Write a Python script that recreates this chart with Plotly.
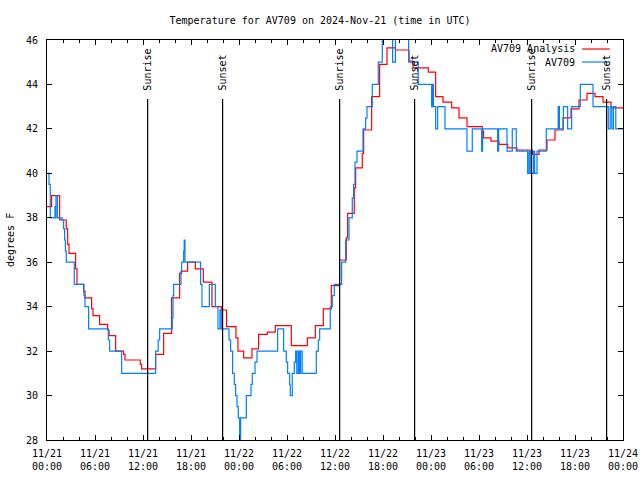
import plotly.graph_objects as go
import pandas as pd

start = pd.Timestamp("2024-11-21 00:00")

# Hours since 2024-11-21 00:00 UTC and temperatures (deg F)
analysis_hours = [0.0, 0.58, 1.58, 2.41, 2.58, 2.75, 3.58, 3.75, 4.58, 4.75, 5.58, 5.75, 6.58, 7.58, 7.75,
                  8.58, 9.58, 9.75, 11.66, 11.83, 13.58, 14.58, 15.58, 16.58, 16.75, 17.58, 18.54, 19.54,
                  20.62, 21.79, 22.45, 23.62, 23.87, 24.58, 25.62, 26.45, 27.54, 28.54, 30.54, 32.54, 33.54,
                  34.54, 35.54, 36.58, 37.41, 37.58, 38.41, 38.58, 39.41, 39.58, 40.58, 41.58, 42.5, 43.58,
                  45.25, 45.75, 47.66, 48.58, 49.5, 50.58, 51.5, 52.5, 54.41, 54.58, 55.5, 56.5, 57.58,
                  58.75, 60.66, 61.5, 62.5, 63.5, 64.5, 65.5, 66.5, 67.5, 68.5, 69.5, 70.5, 72.0]
analysis_temp = [38.5, 39.0, 37.9, 37.5, 36.8, 36.4, 35.7, 35.0, 34.7, 34.4, 33.9, 33.6, 33.2, 32.95, 32.7,
                 32.0, 31.85, 31.6, 31.4, 31.2, 31.85, 32.8, 34.4, 35.5, 35.6, 36.0, 35.7, 35.1,
                 34.0, 33.85, 33.1, 32.6, 32.0, 31.7, 32.1, 32.75, 32.85, 33.15, 32.25, 32.6, 33.15,
                 33.9, 34.95, 36.1, 37.1, 38.2, 39.35, 40.25, 40.9, 41.95, 43.45, 44.9, 45.65, 45.55,
                 45.05, 44.75, 44.55, 43.45, 43.2, 42.95, 42.5, 42.1, 41.9, 41.6, 41.45, 41.3, 41.15,
                 41.05, 40.85, 41.05, 41.5, 41.95, 42.5, 42.9, 43.3, 43.6, 43.45, 43.2, 42.95, 42.95]

obs_hours = [0.0, 0.25, 0.41, 1.0, 1.08, 1.12, 1.3, 1.9, 2.08, 2.2, 2.3, 2.41, 3.41, 4.62, 4.75, 5.2,
             7.66, 7.83, 9.33, 13.58, 13.9, 14.08, 15.66, 15.75, 15.83, 16.75, 16.83, 17.08, 17.15, 17.25,
             19.2, 19.37, 20.29, 21.04, 21.37, 21.62, 21.79, 22.75, 22.95, 23.2, 23.41, 23.58, 23.75,
             23.91, 24.08, 24.2, 24.91, 25.5, 25.66, 26.0, 26.25, 28.83, 29.58, 29.91, 30.08, 30.33,
             30.41, 30.66, 30.91, 31.08, 31.22, 31.4, 31.55, 31.7, 31.9, 33.66, 33.91, 34.08,
             35.41, 35.66, 35.91, 36.83, 37.33, 37.75, 38.16, 38.33, 38.5, 38.75, 39.5, 39.83, 40.0,
             40.66, 41.41, 41.91, 43.2, 43.55, 45.2, 46.4, 48.08, 48.15, 48.2, 48.25, 48.3, 48.58,
             48.83, 49.75, 52.5, 53.16, 54.33, 54.45, 56.33, 56.45, 57.5, 58.16, 58.66, 60.08, 60.25,
             60.41, 60.83, 60.95, 61.25, 62.41, 63.9, 64.05, 64.55, 65.08, 65.58, 66.66, 68.25, 70.16,
             70.4, 70.6, 70.8, 71.1, 72.0]
obs_temp = [40.0, 39.5, 38.0, 38.5, 38.0, 39.0, 38.0, 37.9, 37.5, 37.0, 36.5, 36.0, 35.0, 34.5, 34.0, 33.0,
            32.5, 32.0, 31.0, 32.0, 32.5, 33.0, 33.5, 34.5, 35.0, 35.5, 36.0, 36.5, 37.0, 36.0,
            35.0, 34.0, 35.0, 34.0, 33.0, 33.85, 33.0, 32.5, 32.0, 31.0, 30.5, 30.0, 29.5,
            29.0, 27.9, 29.0, 30.0, 30.5, 31.0, 31.5, 32.0, 33.0, 32.0, 31.5, 31.0, 30.5,
            30.0, 31.0, 31.5, 32.0, 31.0, 32.0, 31.0, 32.0, 31.0, 32.0, 32.5, 33.0,
            34.0, 34.5, 35.0, 36.0, 37.0, 38.0, 38.9, 39.5, 40.5, 41.0, 42.0, 42.5, 43.0,
            44.0, 45.0, 46.5, 45.0, 46.5, 45.0, 44.0, 43.0, 44.0, 43.0, 44.0, 43.0, 42.0,
            43.0, 42.0, 41.0, 42.0, 41.0, 42.0, 41.0, 42.0, 41.0, 42.0, 41.0, 40.0, 41.0,
            40.0, 41.0, 40.0, 41.0, 42.0, 43.0, 42.0, 43.0, 42.0, 43.0, 44.0, 43.0, 42.0,
            43.0, 42.0, 43.0, 42.0, 42.0]

sunrise_hours = [12.58, 36.58, 60.58]
sunset_hours = [21.95, 45.95, 69.95]

tick_hours = [0, 6, 12, 18, 24, 30, 36, 42, 48, 54, 60, 66, 72]
tick_labels = ["11/21<br>00:00", "11/21<br>06:00", "11/21<br>12:00", "11/21<br>18:00",
               "11/22<br>00:00", "11/22<br>06:00", "11/22<br>12:00", "11/22<br>18:00",
               "11/23<br>00:00", "11/23<br>06:00", "11/23<br>12:00", "11/23<br>18:00",
               "11/24<br>00:00"]

series_names = ["AV709 Analysis", "AV709"]
series_colors = ["#ff0000", "#0080ff"]


def to_time(hours):
    return [start + pd.Timedelta(hours=h) for h in hours]


FONT = "DejaVu Sans Mono"

fig = go.Figure()
fig.add_trace(go.Scatter(x=to_time(analysis_hours), y=analysis_temp, mode="lines",
                         line=dict(color=series_colors[0], width=1.2, shape="hv"),
                         name=series_names[0], showlegend=False))
fig.add_trace(go.Scatter(x=to_time(obs_hours), y=obs_temp, mode="lines",
                         line=dict(color=series_colors[1], width=1.2, shape="hv"),
                         name=series_names[1], showlegend=False))

shapes = []
annotations = []
for hrs, label in [(sunrise_hours, "Sunrise"), (sunset_hours, "Sunset")]:
    for h in hrs:
        t = start + pd.Timedelta(hours=h)
        shapes.append(dict(type="line", xref="x", yref="paper", x0=t, x1=t, y0=0, y1=0.8525,
                           line=dict(color="black", width=1.2)))
        annotations.append(dict(x=t, y=0.8675, xref="x", yref="paper", text=label, textangle=-90,
                                showarrow=False, xanchor="center", yanchor="bottom",
                                font=dict(family=FONT, size=10, color="black")))

# legend (gnuplot style: text then sample)
legend_y = [0.9775, 0.945]
for name, color, ly in zip(series_names, series_colors, legend_y):
    annotations.append(dict(x=0.921, y=ly, xref="paper", yref="paper", text=name, showarrow=False,
                            xanchor="right", yanchor="middle",
                            font=dict(family=FONT, size=10, color="black")))
    shapes.append(dict(type="line", xref="paper", yref="paper", x0=0.929, x1=0.977, y0=ly, y1=ly,
                       line=dict(color=color, width=1.2)))

# y-axis title as annotation placed left of tick labels
annotations.append(dict(x=(10 - 47) / 576, y=0.5, xref="paper", yref="paper", text="degrees F",
                        textangle=-90, showarrow=False, xanchor="center", yanchor="middle",
                        font=dict(family=FONT, size=10, color="black")))

fig.update_layout(
    width=640, height=480,
    margin=dict(l=47, r=17, t=40, b=40, autoexpand=False),
    paper_bgcolor="white", plot_bgcolor="white",
    font=dict(family=FONT, size=10, color="black"),
    title=dict(text="Temperature for AV709 on 2024-Nov-21 (time in UTC)", x=0.5, xanchor="center",
               yref="container", y=1 - 20 / 480, yanchor="middle",
               font=dict(family=FONT, size=10, color="black")),
    shapes=shapes, annotations=annotations, showlegend=False,
)
fig.update_xaxes(
    type="date", range=[start, start + pd.Timedelta(hours=72)], automargin=False,
    tickmode="array", tickvals=to_time(tick_hours), ticktext=tick_labels,
    ticks="inside", ticklen=5, tickcolor="black", tickwidth=1, ticklabelstandoff=4,
    minor=dict(dtick=2 * 3600 * 1000, ticks="inside", ticklen=3, tickcolor="black", tick0=start),
    showline=True, linecolor="black", linewidth=1, mirror="allticks",
    showgrid=False, zeroline=False, tickfont=dict(family=FONT, size=10),
)
fig.update_yaxes(
    range=[28, 46], dtick=2, tick0=28, automargin=False,
    ticks="inside", ticklen=5, tickcolor="black", tickwidth=1, ticklabelstandoff=6,
    showline=True, linecolor="black", linewidth=1, mirror="allticks",
    showgrid=False, zeroline=False, tickfont=dict(family=FONT, size=10),
)

fig.write_html("out.html", config={"displayModeBar": False},
               post_script="document.body.style.margin='0px';")
